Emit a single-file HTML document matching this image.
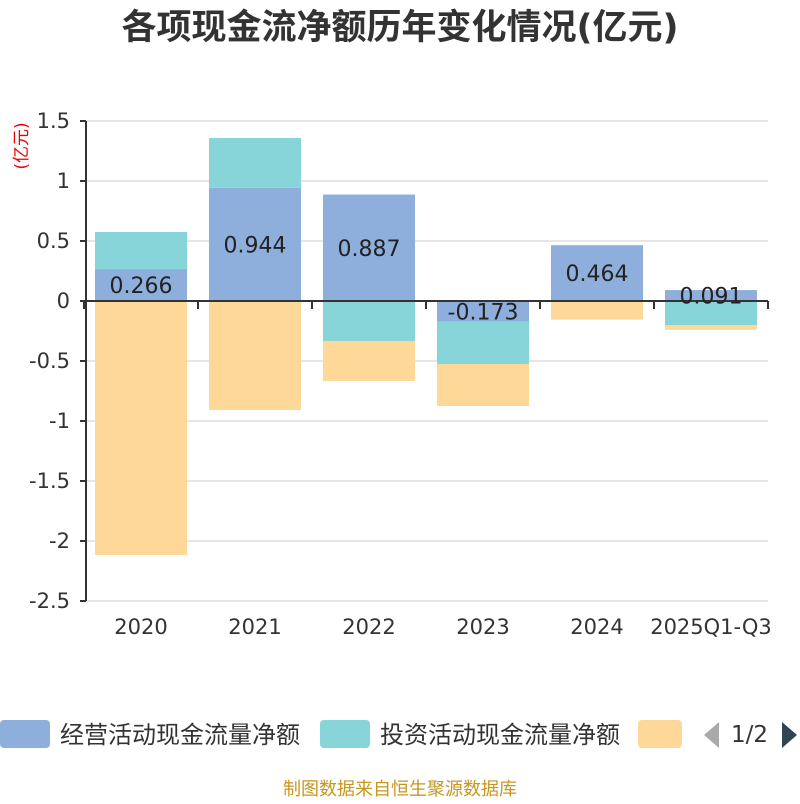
<!DOCTYPE html>
<html><head><meta charset="utf-8"><style>
body{margin:0;background:#fff;font-family:"DejaVu Sans","Noto Sans CJK SC",sans-serif}
</style></head><body>
<svg id="c" width="800" height="800" xmlns="http://www.w3.org/2000/svg" font-family="DejaVu Sans,Noto Sans CJK SC,sans-serif">
<text x="400" y="39" text-anchor="middle" font-size="35" font-weight="bold" fill="#333">各项现金流净额历年变化情况(亿元)</text>
<text transform="translate(27,146) rotate(-90)" text-anchor="middle" font-size="17" fill="#e00">(亿元)</text>
<g id="grid"></g><g id="bars"></g><g id="axes"></g><g id="labels"></g>
<g font-size="24" fill="#333">
<g><rect x="0" y="720" width="50" height="28" rx="4" fill="#8eaedb"/><text x="60" y="743">经营活动现金流量净额</text></g>
<g><rect x="320" y="720" width="50" height="28" rx="4" fill="#87d5d8"/><text x="380" y="743">投资活动现金流量净额</text></g>
<g><rect x="638" y="720" width="44" height="28" rx="4" fill="#fed898"/></g>
<polygon points="719,722 719,748 704,735" fill="#aaa"/>
<text x="731" y="742" font-size="23">1/2</text>
<polygon points="782,722 782,748 797,735" fill="#2f4554"/>
</g>
<text x="400" y="795" text-anchor="middle" font-size="18" fill="#c8961e">制图数据来自恒生聚源数据库</text>
</svg>
<script>
const categories=["2020","2021","2022","2023","2024","2025Q1-Q3"];
const operating=[0.266,0.944,0.887,-0.173,0.464,0.091];
const investing=[0.309,0.414,-0.333,-0.352,0.003,-0.2];
const financing=[-2.117,-0.908,-0.333,-0.35,-0.155,-0.04];
const yTicks=[1.5,1,0.5,0,-0.5,-1,-1.5,-2,-2.5];
const colors=["#8eaedb","#87d5d8","#fed898"];
const NS="http://www.w3.org/2000/svg";
const x0=84,x1=768,yMax=1.5,yMin=-2.5,yT=121,yB=601;
const bw=(x1-x0)/categories.length;
const Y=v=>yT+(yMax-v)/(yMax-yMin)*(yB-yT);
const X=i=>x0+bw*i+bw/2;
function mk(t,a,p){const e=document.createElementNS(NS,t);for(const k in a)e.setAttribute(k,a[k]);p.appendChild(e);return e;}
const grid=document.getElementById('grid'),bars=document.getElementById('bars'),axes=document.getElementById('axes'),labels=document.getElementById('labels');
yTicks.forEach(v=>{
 const l=mk('line',{x1:86,x2:768,y1:Y(v),y2:Y(v),stroke:'#ccc','stroke-width':1},grid);
 
 
 const t=mk('line',{x1:80,x2:86,y1:Y(v),y2:Y(v),stroke:'#333','stroke-width':2},axes);
 
 
 const tx=mk('text',{x:70,y:Y(v)+7,'text-anchor':'end','font-size':21,fill:'#333'},axes);
 tx.textContent=String(v);
 
 
});
const ya=mk('line',{x1:86,x2:86,y1:yT,y2:yB,stroke:'#333','stroke-width':2},axes);


const xa=mk('line',{x1:x0,x2:x1,y1:Y(0),y2:Y(0),stroke:'#333','stroke-width':2},axes);


for(let i=0;i<=categories.length;i++){
 const t=mk('line',{x1:x0+bw*i,x2:x0+bw*i,y1:Y(0),y2:Y(0)+8,stroke:'#333','stroke-width':2},axes);
 
 
}
const series=[operating,investing,financing];
const names=['operating','investing','financing'];
categories.forEach((c,i)=>{
 let pos=0,neg=0;
 series.forEach((s,k)=>{
  const v=s[i];let a,b;
  if(v>=0){a=pos;b=pos+v;pos=b;}else{a=neg;b=neg+v;neg=b;}
  const r=mk('rect',{x:X(i)-46,width:92,y:Math.min(Y(a),Y(b)),height:Math.abs(Y(a)-Y(b)),fill:colors[k]},bars);
  
  
 });
 const v=operating[i];
 const lt=mk('text',{x:X(i),y:Y(v/2)+8,'text-anchor':'middle','font-size':22,fill:'#222'},labels);
 lt.textContent=String(v);
 
 
 const ct=mk('text',{x:X(i),y:634,'text-anchor':'middle','font-size':21,fill:'#333'},axes);
 ct.textContent=c;
 
 
});
</script>
</body></html>
